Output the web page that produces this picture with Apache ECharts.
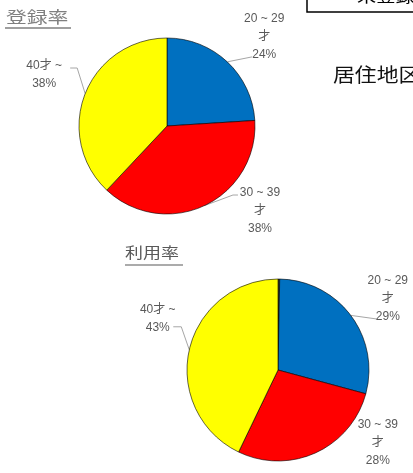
<!DOCTYPE html>
<html><head><meta charset="utf-8">
<script src="https://cdn.jsdelivr.net/npm/echarts@6/dist/echarts.min.js"></script>
<style>html,body{margin:0;padding:0;background:#fff}#c{width:413px;height:473px}</style>
</head><body><div id="c"></div>
<script>
var categories = ['~ 19才', '20 ~ 29才', '30 ~ 39才', '40才 ~'];
var registrationRate = [0, 24, 38, 38];
var usageRate = [0.3, 29, 28, 43];
var sliceColors = ['#4d4d1a', '#0070C0', '#FF0000', '#FFFF00'];
var titles = ['登録率', '利用率'];

// label placement style (offsets relative to each slice's edge point, computed by ECharts)
var LH = 18;
var placement = [
  [null,
   { end: [25, -5], elbow: 0, cx: 12, anchor: 2, ay: -2 },
   { end: [33.5, -10.6], elbow: 5, cx: 22, anchor: 0, ay: -2.5 },
   { end: [-15, -25.6], elbow: 7, cx: -26, anchor: 0, ay: -2 }],
  [null,
   { end: [26, 3.6], elbow: 0, cx: 11, anchor: 2, ay: -2 },
   { end: [40, -28], elbow: 0, cx: 22, anchor: 0, ay: 0, noLine: true },
   { end: [-16, -23], elbow: 8, cx: -15.5, anchor: 1, ay: 1 }]
];

function wrapName(n) { return n.replace(/(\d)才$/, '$1\n才'); }
function buildData(vals) {
  return categories.map(function (c, i) {
    var d = { name: c, value: vals[i], itemStyle: { color: sliceColors[i] } };
    if (vals[i] < 1) { d.label = { show: false }; d.labelLine = { show: false }; }
    return d;
  });
}
var FONT = 'Liberation Sans, Noto Sans CJK JP, sans-serif';
var labelCfg = {
  color: '#595959',
  fontFamily: FONT,
  fontSize: 12,
  overflow: 'none',
  formatter: function (p) {
    var lines = wrapName(p.name).split('\n');
    lines.push(p.value + '%');
    return lines.map(function (l) { return '{a|' + l + '}'; }).join('\n');
  },
  rich: { a: { width: 46, align: 'center', lineHeight: LH, fontSize: 12, color: '#595959', fontFamily: FONT } }
};
function layoutFn(p) {
  var cfg = placement[p.seriesIndex][p.dataIndex];
  if (!cfg || !p.labelLinePoints) return {};
  var e = p.labelLinePoints[0];
  var end = [e[0] + cfg.end[0], e[1] + cfg.end[1]];
  var dir = cfg.end[0] >= 0 ? 1 : -1;
  var elbow = [end[0] - dir * cfg.elbow, end[1]];
  var pts = cfg.noLine ? [e.slice(), e.slice(), e.slice()] : [e.slice(), elbow, end];
  return {
    x: end[0] + cfg.cx,
    y: end[1] + cfg.ay - LH * (cfg.anchor + 0.5),
    align: 'center',
    verticalAlign: 'top',
    labelLinePoints: pts
  };
}
var chart = echarts.init(document.getElementById('c'));
chart.setOption({
  backgroundColor: '#ffffff',
  animation: false,
  graphic: [
    { type: 'text', left: 6, top: 9, scaleX: 1.3, style: { text: titles[0], fontSize: 16, fill: '#7f7f7f', fontFamily: 'Noto Sans CJK JP' } },
    { type: 'line', shape: { x1: 5, y1: 28, x2: 71, y2: 28 }, style: { stroke: '#7f7f7f', lineWidth: 1.5 } },
    { type: 'text', left: 125, top: 245, scaleX: 1.2, style: { text: titles[1], fontSize: 15, fill: '#595959', fontFamily: 'Noto Sans CJK JP' } },
    { type: 'line', shape: { x1: 125, y1: 265, x2: 183, y2: 265 }, style: { stroke: '#595959', lineWidth: 1.2 } },
    { type: 'rect', shape: { x: 307, y: -20, width: 140, height: 32 }, style: { fill: '#fff', stroke: '#000', lineWidth: 1.5 } },
    { type: 'text', left: 357, top: -12, scaleX: 1.2, style: { text: '未登録', fontSize: 16, fill: '#000', fontFamily: 'Noto Sans CJK JP' } },
    { type: 'text', left: 333, top: 65, scaleX: 1.15, style: { text: '居住地区', fontSize: 19, fill: '#111', fontFamily: 'Noto Sans CJK JP' } }
  ],
  series: [
    {
      type: 'pie', center: [167, 126], radius: 88, startAngle: 90, clockwise: true,
      data: buildData(registrationRate),
      itemStyle: { borderColor: '#000', borderWidth: 0.6 },
      label: labelCfg,
      labelLine: { length: 12, length2: 12, lineStyle: { color: '#a6a6a6', width: 1 } },
      labelLayout: layoutFn
    },
    {
      type: 'pie', center: [278, 370], radius: 91, startAngle: 90, clockwise: true,
      data: buildData(usageRate),
      itemStyle: { borderColor: '#000', borderWidth: 0.6 },
      label: labelCfg,
      labelLine: { length: 12, length2: 12, lineStyle: { color: '#a6a6a6', width: 1 } },
      labelLayout: layoutFn
    }
  ]
});
</script></body></html>
